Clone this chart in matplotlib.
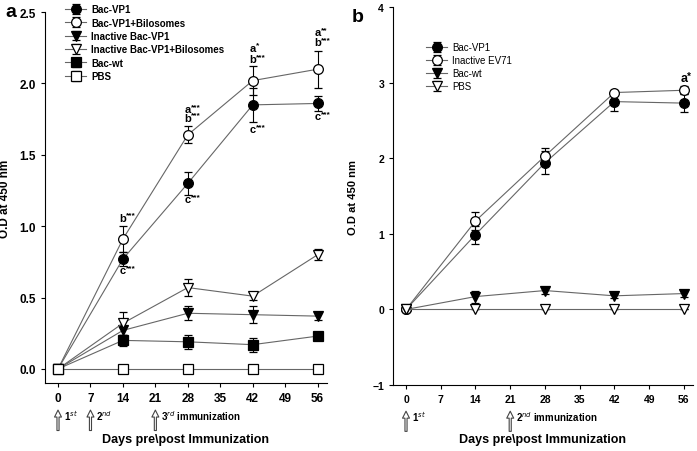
import matplotlib.pyplot as plt

plt.rcParams['font.family'] = ['Liberation Sans', 'DejaVu Sans']

days = [0, 14, 28, 42, 56]
xticks = [0, 7, 14, 21, 28, 35, 42, 49, 56]

# panel a
a_names = ["Bac-VP1", "Bac-VP1+Bilosomes", "Inactive Bac-VP1",
           "Inactive Bac-VP1+Bilosomes", "Bac-wt", "PBS"]
a_vp1 = [0, 0.77, 1.30, 1.85, 1.86]
a_vp1_err = [0, 0.05, 0.08, 0.12, 0.05]
a_bilo = [0, 0.91, 1.64, 2.02, 2.10]
a_bilo_err = [0, 0.09, 0.06, 0.10, 0.13]
a_inact = [0, 0.27, 0.39, 0.38, 0.37]
a_inact_err = [0, 0.03, 0.05, 0.06, 0.03]
a_inact_bilo = [0, 0.32, 0.57, 0.51, 0.80]
a_inact_bilo_err = [0, 0.08, 0.06, 0.03, 0.04]
a_wt = [0, 0.20, 0.19, 0.17, 0.23]
a_wt_err = [0, 0.04, 0.05, 0.05, 0.02]
a_pbs = [0, 0, 0, 0, 0]
a_pbs_err = [0, 0, 0, 0, 0]

a_marks = [(14, 1.06, "b", "***"), (14, 0.69, "c", "***"),
           (28, 1.82, "a", "***"), (28, 1.76, "b", "***"), (28, 1.19, "c", "***"),
           (42, 2.25, "a", "*"), (42, 2.17, "b", "***"), (42, 1.68, "c", "***"),
           (56, 2.36, "a", "**"), (56, 2.29, "b", "***"), (56, 1.77, "c", "***")]

# panel b
b_names = ["Bac-VP1", "Inactive EV71", "Bac-wt", "PBS"]
b_vp1 = [0, 0.99, 1.94, 2.75, 2.73]
b_vp1_err = [0, 0.12, 0.15, 0.13, 0.12]
b_ev71 = [0, 1.17, 2.03, 2.87, 2.90]
b_ev71_err = [0, 0.12, 0.10, 0.03, 0.05]
b_wt = [0, 0.17, 0.25, 0.18, 0.21]
b_wt_err = [0, 0.08, 0.05, 0.03, 0.04]
b_pbs = [0, 0, 0, 0, 0]
b_pbs_err = [0, 0, 0, 0, 0]


def draw_series(ax, ys, errs, marker, fill, label):
    ax.errorbar(days, ys, yerr=errs, color='#666666', lw=0.8, marker=marker,
                ms=7, mfc=fill, mec='black', mew=0.9, ecolor='black',
                elinewidth=0.8, capsize=3, capthick=0.8, label=label)


def sig_text(ax, x, y, letter, stars, size=8):
    ax.text(x, y, letter, ha='center', va='center', fontsize=size, fontweight='bold')
    ax.annotate(stars, xy=(x, y), xytext=(2.5, 2), textcoords='offset points',
                ha='left', va='center', fontsize=size - 2, fontweight='bold')


def style_axes(ax, size):
    ax.spines['top'].set_visible(False)
    ax.spines['right'].set_visible(False)
    ax.set_xticks(xticks)
    ax.tick_params(direction='out', length=3, labelsize=size)
    for lab in ax.get_xticklabels() + ax.get_yticklabels():
        lab.set_fontweight('bold')


def arrow(ax, x, text, y0=-0.135, y1=-0.065, dx=1.2):
    tr = ax.get_xaxis_transform()
    ax.annotate("", xy=(x, y1), xytext=(x, y0), xycoords=tr, textcoords=tr,
                arrowprops=dict(arrowstyle='simple,head_width=0.5,tail_width=0.15',
                                fc='white', ec='#444444', lw=0.8),
                annotation_clip=False)
    ax.text(x + dx, y1 - 0.02, text, transform=tr, fontsize=7, fontweight='bold',
            va='center', ha='left', clip_on=False)


fig = plt.figure(figsize=(6.97, 4.52), dpi=100)

ax1 = fig.add_axes([0.0646, 0.150, 0.4044, 0.821])
series_a = [(a_vp1, a_vp1_err, 'o', 'black'), (a_bilo, a_bilo_err, 'o', 'white'),
            (a_inact, a_inact_err, 'v', 'black'),
            (a_inact_bilo, a_inact_bilo_err, 'v', 'white'),
            (a_wt, a_wt_err, 's', 'black'), (a_pbs, a_pbs_err, 's', 'white')]
for (ys, errs, m, f), name in zip(series_a, a_names):
    draw_series(ax1, ys, errs, m, f, name)
for x, y, letter, stars in a_marks:
    sig_text(ax1, x, y, letter, stars)
ax1.set_xlim(-2.8, 58)
ax1.set_ylim(-0.1, 2.5)
ax1.set_yticks([0, 0.5, 1.0, 1.5, 2.0, 2.5])
ax1.set_yticklabels(["0.0", "0.5", "1.0", "1.5", "2.0", "2.5"])
style_axes(ax1, 8.5)
ax1.set_ylabel("O.D at 450 nm", fontsize=8.5, fontweight='bold', labelpad=6)
ax1.set_xlabel("Days pre\\post Immunization", fontsize=9, fontweight='bold', labelpad=21)
ax1.legend(loc='upper left', bbox_to_anchor=(0.04, 1.045), frameon=False,
           prop={'size': 7, 'weight': 'bold'}, handlelength=2.2, labelspacing=0.35,
           handletextpad=0.5)
arrow(ax1, 0, "1$^{st}$")
arrow(ax1, 7, "2$^{nd}$")
arrow(ax1, 21, "3$^{rd}$ immunization")
fig.text(0.008, 0.972, "a", fontsize=14, fontweight='bold', va='center')

ax2 = fig.add_axes([0.564, 0.146, 0.430, 0.836])
series_b = [(b_vp1, b_vp1_err, 'o', 'black'), (b_ev71, b_ev71_err, 'o', 'white'),
            (b_wt, b_wt_err, 'v', 'black'), (b_pbs, b_pbs_err, 'v', 'white')]
for (ys, errs, m, f), name in zip(series_b, b_names):
    draw_series(ax2, ys, errs, m, f, name)
sig_text(ax2, 56, 3.06, "a", "*", size=9)
ax2.set_xlim(-2.6, 57.8)
ax2.set_ylim(-1, 4)
ax2.set_yticks([-1, 0, 1, 2, 3, 4])
style_axes(ax2, 7.5)
ax2.set_ylabel("O.D at 450 nm", fontsize=8, fontweight='bold', labelpad=10)
ax2.set_xlabel("Days pre\\post Immunization", fontsize=9, fontweight='bold', labelpad=21)
ax2.legend(loc='upper left', bbox_to_anchor=(0.08, 0.93), frameon=False,
           prop={'size': 7}, handlelength=2.2, labelspacing=0.3, handletextpad=0.5)
arrow(ax2, 0, "1$^{st}$", y0=-0.13, y1=-0.062)
arrow(ax2, 21, "2$^{nd}$ immunization", y0=-0.13, y1=-0.062)
fig.text(0.505, 0.962, "b", fontsize=14, fontweight='bold', va='center')

fig.savefig("out.png", dpi=100)
plt.close(fig)
